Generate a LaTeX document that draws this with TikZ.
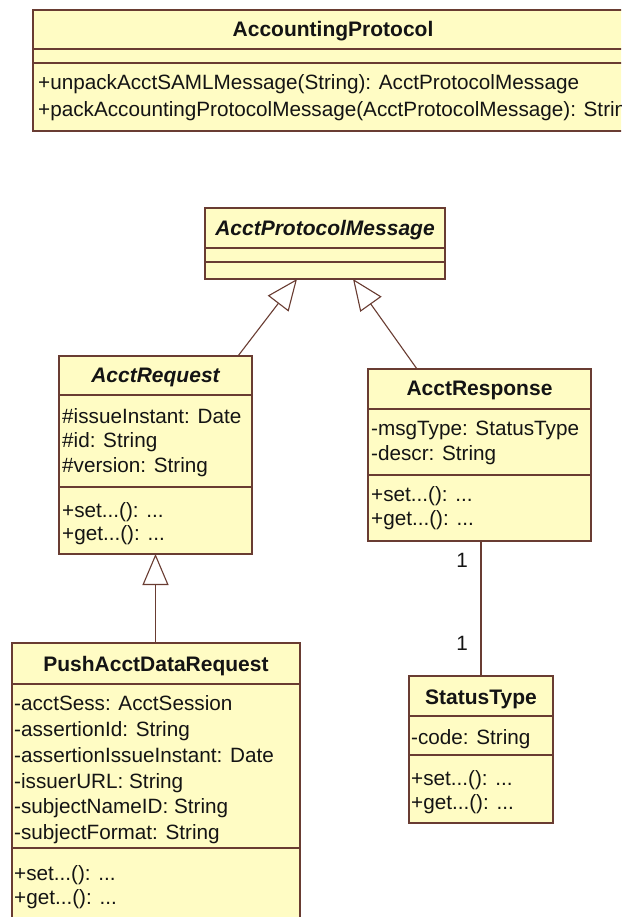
\documentclass[tikz,border=0pt]{standalone}
\usepackage{fontspec}
\setmainfont{Liberation Sans}
\usetikzlibrary{arrows.meta,calc}
\definecolor{umlfill}{RGB}{255,252,196}
\definecolor{umlline}{RGB}{105,60,50}
\definecolor{umltext}{RGB}{20,20,20}

\begin{document}
\begin{tikzpicture}[x=1pt,y=-1pt,
  classbox/.style={draw=umlline, fill=umlfill, line width=1.2pt, inner sep=0pt, outer sep=0pt, anchor=north west},
  sep/.style={draw=umlline, line width=1.2pt},
  cname/.style={font=\fontsize{21}{25}\selectfont\bfseries, text=umltext, inner sep=0pt, anchor=base},
  cnamei/.style={cname, font=\fontsize{21}{25}\selectfont\bfseries\itshape},
  member/.style={font=\fontsize{20.7}{25}\selectfont, text=umltext, inner sep=0pt, anchor=base west},
  mult/.style={member, anchor=base},
  gen/.style={draw=umlline, line width=1.1pt, -{Triangle[open, length=31pt, width=26pt, line width=1.1pt]}},
  assoc/.style={draw=umlline, line width=1.1pt}]

\useasboundingbox[fill=white] (0,0) rectangle (621,917);
\clip (0,0) rectangle (621,917);

% ---------- AccountingProtocol ----------
\node[classbox, minimum width=600pt, minimum height=121pt] (ap) at (33,10) {};
\draw[sep] (ap.west |- 0,49) -- (ap.east |- 0,49);
\draw[sep] (ap.west |- 0,63) -- (ap.east |- 0,63);
\node[cname] (ap-name) at (333,37) {AccountingProtocol};
\node[member] (ap-m1) at (38,90) {+unpackAcctSAMLMessage(String): AcctProtocolMessage};
\node[member] (ap-m2) at (38,117) {+packAccountingProtocolMessage(AcctProtocolMessage): String};

% ---------- AcctProtocolMessage (abstract) ----------
\node[classbox, minimum width=240pt, minimum height=71pt] (apm) at (205,208) {};
\draw[sep] (apm.west |- 0,248) -- (apm.east |- 0,248);
\draw[sep] (apm.west |- 0,262) -- (apm.east |- 0,262);
\node[cnamei] (apm-name) at (325,236) {AcctProtocolMessage};

% ---------- AcctRequest (abstract) ----------
\node[classbox, minimum width=193pt, minimum height=198pt] (req) at (59,356) {};
\draw[sep] (req.west |- 0,395) -- (req.east |- 0,395);
\draw[sep] (req.west |- 0,487) -- (req.east |- 0,487);
\node[cnamei] (req-name) at (155.5,382) {AcctRequest};
\node[member] (req-a1) at (62,423) {\#issueInstant: Date};
\node[member] (req-a2) at (62,447) {\#id: String};
\node[member] (req-a3) at (62,472) {\#version: String};
\node[member] (req-m1) at (62,517) {+set...(): ...};
\node[member] (req-m2) at (62,540) {+get...(): ...};

% ---------- AcctResponse ----------
\node[classbox, minimum width=223pt, minimum height=172pt] (resp) at (368,369) {};
\draw[sep] (resp.west |- 0,409) -- (resp.east |- 0,409);
\draw[sep] (resp.west |- 0,475) -- (resp.east |- 0,475);
\node[cname] (resp-name) at (479.5,395) {AcctResponse};
\node[member] (resp-a1) at (371,435) {-msgType: StatusType};
\node[member] (resp-a2) at (371,460) {-descr: String};
\node[member] (resp-m1) at (371,501) {+set...(): ...};
\node[member] (resp-m2) at (371,525) {+get...(): ...};

% ---------- PushAcctDataRequest ----------
\node[classbox, minimum width=288pt, minimum height=284pt] (push) at (12,643) {};
\draw[sep] (push.west |- 0,684) -- (push.east |- 0,684);
\draw[sep] (push.west |- 0,848) -- (push.east |- 0,848);
\node[cname] (push-name) at (156,671) {PushAcctDataRequest};
\node[member] (push-a1) at (14,710) {-acctSess: AcctSession};
\node[member] (push-a2) at (14,736) {-assertionId: String};
\node[member] (push-a3) at (14,762) {-assertionIssueInstant: Date};
\node[member] (push-a4) at (14,788) {-issuerURL: String};
\node[member] (push-a5) at (14,813) {-subjectNameID: String};
\node[member] (push-a6) at (14,839) {-subjectFormat: String};
\node[member] (push-m1) at (14,880) {+set...(): ...};
\node[member] (push-m2) at (14,904) {+get...(): ...};

% ---------- StatusType ----------
\node[classbox, minimum width=144pt, minimum height=147pt] (status) at (409,676) {};
\draw[sep] (status.west |- 0,716) -- (status.east |- 0,716);
\draw[sep] (status.west |- 0,755) -- (status.east |- 0,755);
\node[cname] (status-name) at (481,704) {StatusType};
\node[member] (status-a1) at (411,744) {-code: String};
\node[member] (status-m1) at (411,785) {+set...(): ...};
\node[member] (status-m2) at (411,809) {+get...(): ...};

% ---------- generalisations ----------
\draw[gen] ($(req.north west)+(179,0)$) -- ($(apm.south west)+(92,0)$);
\draw[gen] ($(resp.north west)+(49,0)$) -- ($(apm.south west)+(148,0)$);
\draw[gen] (push.north -| req.south) -- (req.south);

% ---------- association AcctResponse -- StatusType ----------
\draw[assoc] (status.north) -- (status.north |- resp.south);
\node[mult] (mult-top) at (462,567) {1};
\node[mult] (mult-bot) at (462,650) {1};

\end{tikzpicture}
\end{document}
